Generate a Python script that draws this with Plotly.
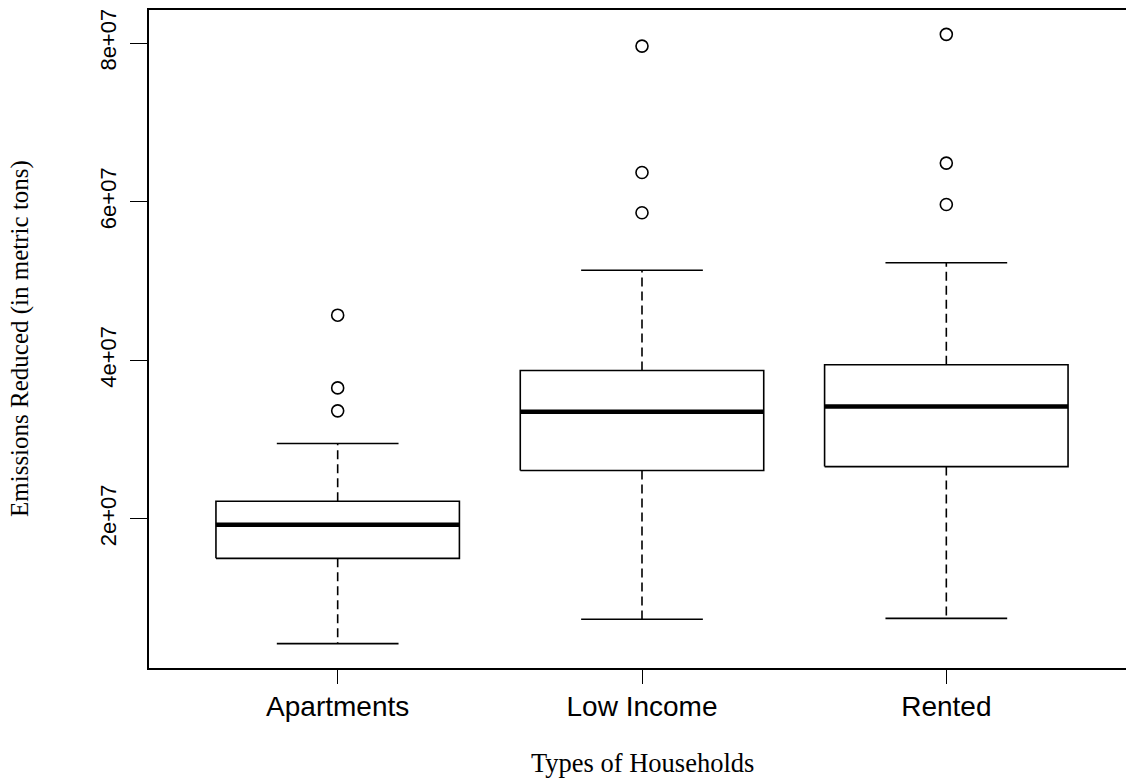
import plotly.graph_objects as go

categories = ["Apartments", "Low Income", "Rented"]
lower_whisker = [4.24e6, 7.31e6, 7.43e6]
q1 = [15.0e6, 26.07e6, 26.57e6]
median = [19.22e6, 33.48e6, 34.15e6]
q3 = [22.2e6, 38.69e6, 39.41e6]
upper_whisker = [29.48e6, 51.34e6, 52.28e6]
outliers = [
    [33.6e6, 36.5e6, 45.67e6],
    [58.59e6, 63.67e6, 79.61e6],
    [59.63e6, 64.85e6, 81.09e6],
]
y_tick_vals = [2e7, 4e7, 6e7, 8e7]
y_tick_text = ["2e+07", "4e+07", "6e+07", "8e+07"]

positions = [1, 2, 3]
boxwex = 0.8
staple = 0.4

fig = go.Figure()

# box rectangles
bx, by = [], []
for p, a, b in zip(positions, q1, q3):
    h = boxwex / 2
    bx += [p - h, p + h, p + h, p - h, p - h, None]
    by += [a, a, b, b, a, None]
fig.add_trace(go.Scatter(x=bx, y=by, mode="lines", line=dict(color="black", width=1.6),
                         hoverinfo="skip", showlegend=False))

# whiskers (dashed)
wx, wy = [], []
for p, lo, a, b, hi in zip(positions, lower_whisker, q1, q3, upper_whisker):
    wx += [p, p, None, p, p, None]
    wy += [a, lo, None, b, hi, None]
fig.add_trace(go.Scatter(x=wx, y=wy, mode="lines",
                         line=dict(color="black", width=1.6, dash="9px,5px"),
                         hoverinfo="skip", showlegend=False))

# staples
sx, sy = [], []
for p, lo, hi in zip(positions, lower_whisker, upper_whisker):
    h = staple / 2
    sx += [p - h, p + h, None, p - h, p + h, None]
    sy += [lo, lo, None, hi, hi, None]
fig.add_trace(go.Scatter(x=sx, y=sy, mode="lines", line=dict(color="black", width=1.6),
                         hoverinfo="skip", showlegend=False))

# medians
mx, my = [], []
for p, m in zip(positions, median):
    h = boxwex / 2
    mx += [p - h, p + h, None]
    my += [m, m, None]
fig.add_trace(go.Scatter(x=mx, y=my, mode="lines", line=dict(color="black", width=4.5),
                         hoverinfo="skip", showlegend=False))

# outliers
ox, oy = [], []
for p, outs in zip(positions, outliers):
    for v in outs:
        ox.append(p)
        oy.append(v)
fig.add_trace(go.Scatter(x=ox, y=oy, mode="markers",
                         marker=dict(symbol="circle-open", size=12, color="black",
                                     line=dict(width=1.6, color="black")),
                         hoverinfo="skip", showlegend=False))

all_vals = lower_whisker + upper_whisker + [v for o in outliers for v in o]
ymin, ymax = min(all_vals), max(all_vals)
pad = 0.04 * (ymax - ymin)
xpad = 0.04 * (len(positions))

fig.update_layout(
    width=1137, height=778,
    margin=dict(l=149, r=0, t=10, b=110),
    paper_bgcolor="white", plot_bgcolor="white",
    showlegend=False,
    xaxis=dict(
        range=[0.5 - xpad, len(positions) + 0.5 + xpad],
        tickmode="array", tickvals=positions, ticktext=categories,
        showgrid=False, zeroline=False,
        showline=True, mirror=True, linecolor="black", linewidth=1.6,
        ticks="outside", ticklen=14, tickwidth=1.4, tickcolor="black",
        tickfont=dict(family="Liberation Sans, Arial, sans-serif", size=28, color="black"),
        ticklabelstandoff=-1,
    ),
    yaxis=dict(
        range=[ymin - pad, ymax + pad],
        tickmode="array", tickvals=y_tick_vals, ticktext=y_tick_text,
        tickangle=-90,
        showgrid=False, zeroline=False,
        showline=True, mirror=True, linecolor="black", linewidth=1.6,
        ticks="outside", ticklen=17, tickwidth=1.4, tickcolor="black",
        tickfont=dict(family="Liberation Sans, Arial, sans-serif", size=22, color="black"),
        ticklabelstandoff=5,
    ),
    annotations=[
        dict(text="Types of Households", xref="paper", yref="paper",
             x=0.5, y=0, xanchor="center", yanchor="middle", yshift=-95,
             showarrow=False,
             font=dict(family="Liberation Serif, Times New Roman, serif", size=26.5, color="black")),
        dict(text="Emissions Reduced (in metric tons)", xref="paper", yref="paper",
             x=0, y=0.5, xanchor="center", yanchor="middle", xshift=-129, textangle=-90,
             showarrow=False,
             font=dict(family="Liberation Serif, Times New Roman, serif", size=25, color="black")),
    ],
)

fig.write_html("out.html", config={"displayModeBar": False},
               post_script="document.body.style.margin='0px';document.body.style.overflow='hidden';")
